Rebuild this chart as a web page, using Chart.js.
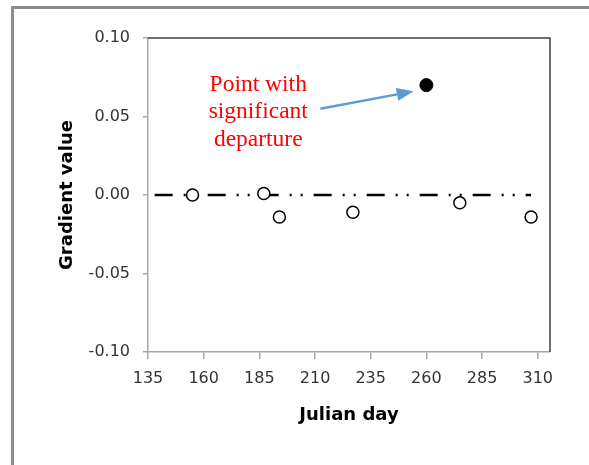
<!DOCTYPE html>
<html lang="en">
<head>
<meta charset="UTF-8">
<title>Gradient value by Julian day</title>
<style>
  body { margin: 0; background: #fff; overflow: hidden; }
  .frame {
    position: absolute; left: 11px; top: 6px;
    width: 640px; height: 520px;
    border: 3px solid #8c8c8c;
  }
  #gradChart { position: absolute; left: 0; top: 0; }
</style>
</head>
<body>
<div class="frame"></div>
<canvas id="gradChart" width="589" height="465"></canvas>

<script src="https://cdn.jsdelivr.net/npm/chart.js"></script>
<script>
// observations
const julianDays     = [155, 187, 194, 227, 260, 275, 307];
const gradientValues = [0.000, 0.001, -0.014, -0.011, 0.070, -0.005, -0.014];
const isSignificant  = [false, false, false, false, true, false, false];

// zero reference line
const refLineDays   = [138, 307];
const refLineValues = [0, 0];

// axis ticks
const xTickValues = [135, 160, 185, 210, 235, 260, 285, 310];
const yTickValues = [-0.10, -0.05, 0.00, 0.05, 0.10];

// callout text and arrow, placed in data units
const noteLines = ['Point with', 'significant', 'departure'];
const noteAt    = { x: 184.5, y: 0.0665 };
const arrowFrom = { x: 212.4, y: 0.0549 };
const arrowTo   = { x: 254.3, y: 0.0661 };

const pts = (xs, ys) => xs.map((x, i) => ({ x: x, y: ys[i] }));
const openPts = pts(julianDays, gradientValues).filter((p, i) => !isSignificant[i]);
const flagPts = pts(julianDays, gradientValues).filter((p, i) => isSignificant[i]);

const axisGrey = '#a6a6a6';
const tickFont = { family: '"DejaVu Sans"', size: 16 };
const titleFont = { family: '"DejaVu Sans"', size: 18, weight: 'bold' };

// top and right edges of the plot area
const plotFrame = {
  id: 'plotFrame',
  afterDraw(chart) {
    const { ctx, chartArea: a } = chart;
    ctx.save();
    ctx.strokeStyle = '#404040';
    ctx.lineWidth = 1.5;
    ctx.beginPath();
    ctx.moveTo(a.left, a.top);
    ctx.lineTo(a.right, a.top);
    ctx.lineTo(a.right, a.bottom);
    ctx.stroke();
    ctx.restore();
  }
};

// red note with blue arrow
const callout = {
  id: 'callout',
  afterDatasetsDraw(chart) {
    const { ctx, scales: { x, y } } = chart;
    ctx.save();
    ctx.fillStyle = '#ff0000';
    ctx.font = '23.5px "Liberation Serif"';
    ctx.textAlign = 'center';
    ctx.textBaseline = 'alphabetic';
    const tx = x.getPixelForValue(noteAt.x);
    const ty = y.getPixelForValue(noteAt.y);
    noteLines.forEach((t, i) => ctx.fillText(t, tx, ty + i * 27.5));

    const x0 = x.getPixelForValue(arrowFrom.x), y0 = y.getPixelForValue(arrowFrom.y);
    const x1 = x.getPixelForValue(arrowTo.x),   y1 = y.getPixelForValue(arrowTo.y);
    const ang = Math.atan2(y1 - y0, x1 - x0);
    const headLen = 17, headHalf = 6.5;
    const bx = x1 - headLen * Math.cos(ang), by = y1 - headLen * Math.sin(ang);
    ctx.strokeStyle = '#5b9bd5';
    ctx.fillStyle = '#5b9bd5';
    ctx.lineWidth = 2.5;
    ctx.beginPath();
    ctx.moveTo(x0, y0);
    ctx.lineTo(bx, by);
    ctx.stroke();
    ctx.beginPath();
    ctx.moveTo(x1, y1);
    ctx.lineTo(bx + headHalf * Math.sin(ang), by - headHalf * Math.cos(ang));
    ctx.lineTo(bx - headHalf * Math.sin(ang), by + headHalf * Math.cos(ang));
    ctx.closePath();
    ctx.fill();
    ctx.restore();
  }
};

new Chart(document.getElementById('gradChart'), {
  type: 'scatter',
  data: {
    datasets: [
      {
        type: 'line',
        data: pts(refLineDays, refLineValues),
        borderColor: '#000',
        borderWidth: 2.5,
        borderDash: [18, 11, 2, 9, 2, 11],
        pointRadius: 0,
        fill: false,
        order: 3
      },
      {
        data: openPts,
        pointRadius: 6,
        pointBackgroundColor: '#fff',
        pointBorderColor: '#000',
        pointBorderWidth: 1.5,
        order: 2
      },
      {
        data: flagPts,
        pointRadius: 6.5,
        pointBackgroundColor: '#000',
        pointBorderColor: '#000',
        pointBorderWidth: 1,
        order: 1
      }
    ]
  },
  options: {
    responsive: false,
    animation: false,
    layout: { padding: { top: 38, right: 39, left: 0, bottom: 0 } },
    plugins: { legend: { display: false }, tooltip: { enabled: false } },
    scales: {
      x: {
        type: 'linear',
        min: 135,
        max: 315.5,
        afterBuildTicks: s => { s.ticks = xTickValues.map(v => ({ value: v })); },
        afterFit: s => { s.height = 113; },
        grid: { drawOnChartArea: false, tickLength: 7, color: axisGrey, lineWidth: 1.5 },
        border: { color: axisGrey, width: 1.5 },
        ticks: { color: '#333', font: tickFont, padding: 10, maxRotation: 0, autoSkip: false,
                 callback: v => String(v) },
        title: { display: true, text: 'Julian day', color: '#000', font: titleFont,
                 padding: { top: 0, bottom: 39 } }
      },
      y: {
        min: -0.10,
        max: 0.10,
        afterBuildTicks: s => { s.ticks = yTickValues.map(v => ({ value: v })); },
        afterFit: s => { s.width = 148; },
        grid: { drawOnChartArea: false, tickLength: 5, color: axisGrey, lineWidth: 1.5 },
        border: { color: axisGrey, width: 1.5 },
        ticks: { color: '#333', font: tickFont, padding: 13,
                 callback: v => v.toFixed(2) },
        title: { display: true, text: 'Gradient value', color: '#000', font: titleFont,
                 padding: { top: 57, bottom: 0 } }
      }
    }
  },
  plugins: [plotFrame, callout]
});
</script>
</body>
</html>
